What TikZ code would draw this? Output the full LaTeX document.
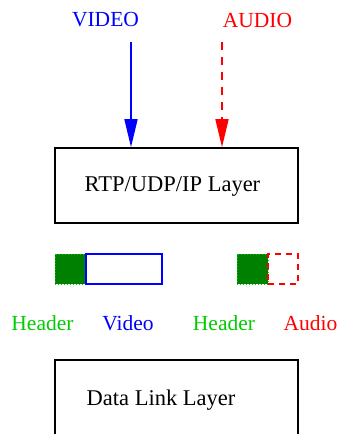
\documentclass[tikz,border=0pt]{standalone}
\usepackage{fontspec}
\setmainfont{Liberation Serif}
\usetikzlibrary{arrows.meta}
\definecolor{hdrfill}{RGB}{0,128,0}
\definecolor{hdrtext}{RGB}{0,205,0}
\begin{document}
\begin{tikzpicture}[x=1pt,y=-1pt,
  lbl/.style={inner sep=0pt,font=\fontsize{21.5}{24}\selectfont},
  boxlbl/.style={inner sep=0pt,font=\fontsize{22.5}{25}\selectfont},
  layerbox/.style={draw=black,line width=1.6pt},
  hdrbox/.style={fill=hdrfill,draw=hdrtext,dotted,line width=1pt},
  bigtip/.style={-{Triangle[length=28pt,width=13pt]}}]
\useasboundingbox (0,0) rectangle (338,434);
% top labels
\node[lbl,text=blue] (video) at (105.5,20) {VIDEO};
\node[lbl,text=red] (audio) at (257.5,20) {AUDIO};
% RTP box
\node[layerbox,minimum width=243pt,minimum height=75pt,inner sep=0pt] (rtp) at (176.5,185.5) {};
\node[boxlbl] (rtptext) at (172.5,187) {RTP/UDP/IP Layer};
\coordinate (vstart) at (131,42);
\coordinate (astart) at (222,42);
\draw[blue,line width=1.6pt,bigtip] (vstart) -- (vstart |- rtp.north);
\draw[red,line width=1.6pt,dash pattern=on 8pt off 7pt,bigtip] (astart) -- (astart |- rtp.north);
% packets
\draw[hdrbox] (55,254) rectangle (86,284);
\node[draw=blue,line width=1.6pt,minimum width=76pt,minimum height=30pt,inner sep=0pt] (vpay) at (124,269) {};
\draw[hdrbox] (237,254) rectangle (268,284);
\node[draw=red,line width=1.6pt,dash pattern=on 6pt off 5pt,minimum width=30pt,minimum height=30pt,inner sep=0pt] (apay) at (283,269) {};
% packet labels
\node[lbl,text=hdrtext] (h1) at (42.5,323) {Header};
\node[lbl,text=blue] (vl) at (128,323) {Video};
\node[lbl,text=hdrtext] (h2) at (224,323) {Header};
\node[lbl,text=red] (al) at (310.5,323) {Audio};
% data link box (open at bottom, cut by the edge)
\coordinate (dl1) at (55,445);
\coordinate (dl2) at (55,360);
\coordinate (dl3) at (298,360);
\coordinate (dl4) at (298,445);
\draw[line width=1.6pt] (dl1) -- (dl2) -- (dl3) -- (dl4);
\node[boxlbl,anchor=west] (dltext) at (86.5,400) {Data Link Layer};
\end{tikzpicture}
\end{document}
